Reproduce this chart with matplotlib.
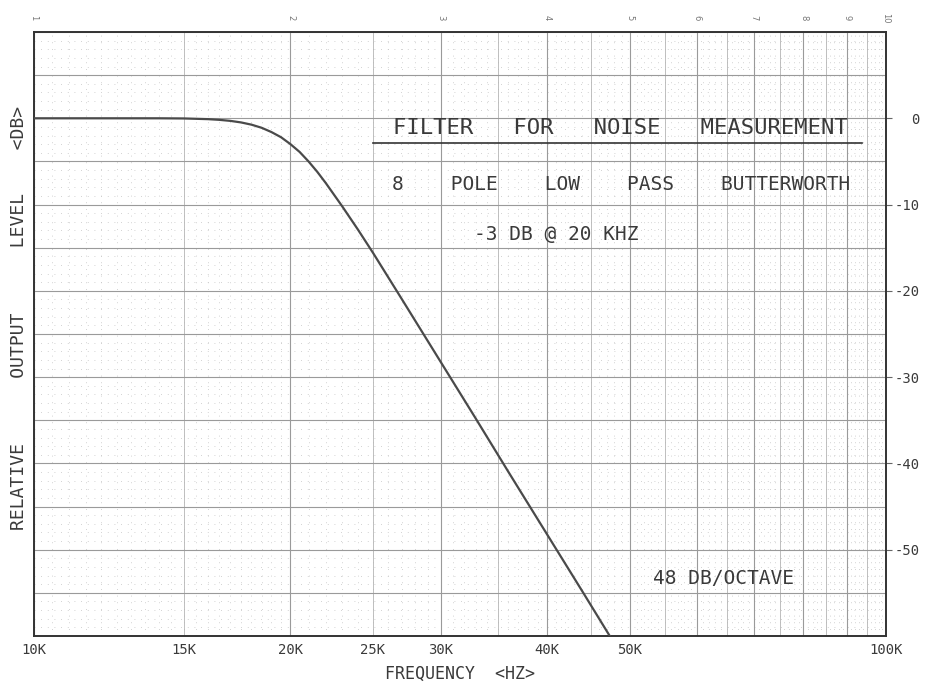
import matplotlib
matplotlib.use('Agg')
import matplotlib.pyplot as plt
from matplotlib.ticker import FixedLocator, NullFormatter, NullLocator

# curve (kHz, dB)
freq_khz = [10, 12, 14, 15, 16, 16.5, 17, 17.5, 18, 18.5, 19, 19.5, 20, 20.5, 21, 21.5,
            22, 23, 24, 25, 27, 30, 33, 36, 40, 44, 47.4]
level_db = [0, 0, 0, -0.02, -0.1, -0.18, -0.3, -0.48, -0.74, -1.1, -1.6, -2.2, -3.0,
            -3.9, -5.0, -6.2, -7.5, -10.2, -12.9, -15.6, -20.9, -28.2, -34.8, -40.9,
            -48.2, -54.8, -60]

xtick_khz = [10, 15, 20, 25, 30, 40, 50, 100]
xtick_labels = ['10K', '15K', '20K', '25K', '30K', '40K', '50K', '100K']
ytick_db = [0, -10, -20, -30, -40, -50]
ytick_labels = ['0', '-10', '-20', '-30', '-40', '-50']
cycle_labels = ['1', '2', '3', '4', '5', '6', '7', '8', '9', '10']

# graph paper rulings
major_khz = [10, 20, 30, 40, 50, 60, 70, 80, 90, 100]
mid_khz = [15, 25, 35, 45, 55, 65, 75, 85, 95]
fine_khz = [10 + 0.5 * i for i in range(1, 20)] + list(range(21, 100))
major_db = list(range(-60, 11, 5))
fine_db = list(range(-60, 11, 1))

FONT = 'DejaVu Sans Mono'
INK = '#3a3a3a'

fig = plt.figure(figsize=(9.48, 6.83), dpi=100)
ax = fig.add_axes([34 / 948, 47 / 683, 852 / 948, 604 / 683])

ax.set_xscale('log')
ax.set_xlim(10000, 100000)
ax.set_ylim(-60, 10)

for f in fine_khz:
    ax.axvline(f * 1000, color='#c4c4c4', lw=0.6, ls=(0, (1, 7)), zorder=0)
for d in fine_db:
    ax.axhline(d, color='#c4c4c4', lw=0.6, ls=(0, (1, 7)), zorder=0)
for f in mid_khz:
    ax.axvline(f * 1000, color='#b4b4b4', lw=0.6, zorder=0.5)
for f in major_khz:
    ax.axvline(f * 1000, color='#9a9a9a', lw=0.8, zorder=0.5)
for d in major_db:
    ax.axhline(d, color='#9a9a9a', lw=0.8, zorder=0.5)

ax.plot([f * 1000 for f in freq_khz], level_db, color='#4a4a4a', lw=1.6, zorder=3)

ax.xaxis.set_major_locator(FixedLocator([f * 1000 for f in xtick_khz]))
ax.xaxis.set_minor_locator(NullLocator())
ax.xaxis.set_minor_formatter(NullFormatter())
ax.set_xticklabels(xtick_labels, fontfamily=FONT, fontsize=10, color=INK)
ax.tick_params(axis='x', length=0, pad=5)

ax.yaxis.tick_right()
ax.set_yticks(ytick_db)
ax.set_yticklabels(ytick_labels, fontfamily=FONT, fontsize=10, color=INK)
for lab in ax.get_yticklabels():
    lab.set_horizontalalignment('right')
ax.tick_params(axis='y', length=4, width=0.8, color='#666666', pad=20)

for s in ax.spines.values():
    s.set_color('#333333')
    s.set_linewidth(1.4)

ax.set_xlabel('FREQUENCY  <HZ>', fontfamily=FONT, fontsize=12, color=INK, labelpad=6)
fig.text(19 / 948, 1 - 318 / 683, 'RELATIVE      OUTPUT      LEVEL    <DB>', rotation=90,
         ha='center', va='center', fontfamily=FONT, fontsize=13, color=INK)

# log-cycle numbers printed on the paper
xt = ax.get_xaxis_transform()
for i, lab in enumerate(cycle_labels):
    ax.text((i + 1) * 10000, 1.023, lab, transform=xt, rotation=-90, ha='center',
            va='center', fontsize=6, color='#777777', clip_on=False)

ax.text(0.688, 0.841, 'FILTER   FOR   NOISE   MEASUREMENT', transform=ax.transAxes,
        ha='center', va='center', fontfamily=FONT, fontsize=16, color=INK)
ax.plot([0.398, 0.972], [0.816, 0.816], transform=ax.transAxes, color='#333333', lw=1.2)
ax.text(0.689, 0.748, '8    POLE    LOW    PASS    BUTTERWORTH', transform=ax.transAxes,
        ha='center', va='center', fontfamily=FONT, fontsize=14, color=INK)
ax.text(0.613, 0.664, '-3 DB @ 20 KHZ', transform=ax.transAxes,
        ha='center', va='center', fontfamily=FONT, fontsize=14, color=INK)
ax.text(0.809, 0.096, '48 DB/OCTAVE', transform=ax.transAxes,
        ha='center', va='center', fontfamily=FONT, fontsize=14, color=INK)

fig.savefig('out.png', dpi=100, facecolor='white')
